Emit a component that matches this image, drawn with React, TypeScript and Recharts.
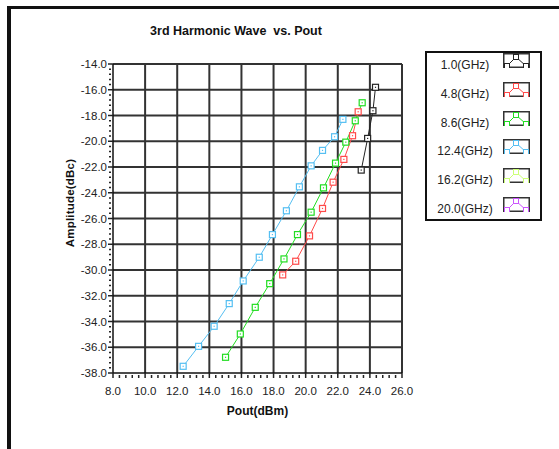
import React from 'react';
import { LineChart, Line, XAxis, YAxis, ReferenceLine, Legend } from 'recharts';

// frequencies shown in the legend
const freqLabels = ['1.0(GHz)', '4.8(GHz)', '8.6(GHz)', '12.4(GHz)', '16.2(GHz)', '20.0(GHz)'];
const freqColors = ['#222222', '#ff4a4a', '#22dd22', '#55bff2', '#ccff77', '#cc55ff'];

// Pout (dBm) / 3rd harmonic amplitude (dBc)
const pout1_0 = [23.46, 23.86, 24.19, 24.35];
const amp1_0 = [-22.24, -19.78, -17.63, -15.81];

const pout4_8 = [18.57, 19.38, 20.24, 21.05, 21.71, 22.38, 22.92, 23.27];
const amp4_8 = [-30.38, -29.32, -27.35, -25.22, -23.18, -21.41, -19.57, -17.71];

const pout8_6 = [15.01, 15.93, 16.86, 17.76, 18.65, 19.49, 20.34, 21.11, 21.86, 22.5, 23.09, 23.52];
const amp8_6 = [-36.78, -34.97, -32.9, -31.06, -29.14, -27.25, -25.51, -23.62, -21.7, -20.07, -18.41, -17.01];

const pout12_4 = [12.37, 13.33, 14.3, 15.24, 16.11, 17.11, 17.93, 18.8, 19.61, 20.34, 21.05, 21.8, 22.32];
const amp12_4 = [-37.48, -35.93, -34.37, -32.61, -30.85, -29.01, -27.25, -25.4, -23.54, -21.91, -20.71, -19.65, -18.3];

const pout16_2: number[] = [];
const amp16_2: number[] = [];
const pout20_0: number[] = [];
const amp20_0: number[] = [];

const xMajorTicks = [8, 10, 12, 14, 16, 18, 20, 22, 24, 26];
const yMajorTicks = [-38, -36, -34, -32, -30, -28, -26, -24, -22, -20, -18, -16, -14];

const toPoints = (xs: number[], ys: number[]) => xs.map((x, i) => ({ x, y: ys[i] }));

const series = [
  toPoints(pout1_0, amp1_0),
  toPoints(pout4_8, amp4_8),
  toPoints(pout8_6, amp8_6),
  toPoints(pout12_4, amp12_4),
  toPoints(pout16_2, amp16_2),
  toPoints(pout20_0, amp20_0),
];

// 4 minor ticks between each pair of majors
const withMinors = (majors: number[]) => {
  const out: number[] = [];
  majors.forEach((m, i) => {
    out.push(m);
    if (i < majors.length - 1) {
      const step = (majors[i + 1] - m) / 5;
      for (let k = 1; k < 5; k++) out.push(+(m + step * k).toFixed(3));
    }
  });
  return out;
};

const isMajor = (v: number) => Math.abs(v / 2 - Math.round(v / 2)) < 1e-6;

const FONT = '"Liberation Sans", Arial, sans-serif';

const XTick = ({ x, y, payload }: any) => {
  const major = isMajor(payload.value);
  return (
    <g>
      <line x1={x} x2={x} y1={y + (major ? 0 : 2)} y2={y + 5} stroke="#222" strokeWidth={1.5} />
      {major && (
        <text x={x} y={y + 22} textAnchor="middle" fontSize={11.5} fontFamily={FONT} fill="#222">
          {payload.value.toFixed(1)}
        </text>
      )}
    </g>
  );
};

const YTick = ({ x, y, payload }: any) => {
  const major = isMajor(payload.value);
  return (
    <g>
      <line x1={x - (major ? 5 : 4)} x2={major ? x : x - 2} y1={y} y2={y} stroke="#222" strokeWidth={1.5} />
      {major && (
        <text x={x - 6} y={y + 4} textAnchor="end" fontSize={11.5} fontFamily={FONT} fill="#222">
          {payload.value.toFixed(1)}
        </text>
      )}
    </g>
  );
};

const makeDot = (color: string) => (props: any) => {
  const { cx, cy, index } = props;
  if (cx == null || cy == null) return <g key={index} />;
  return (
    <g key={index}>
      <rect x={cx - 3} y={cy - 3} width={6} height={6} fill="#fff" stroke={color} strokeWidth={1.2} />
      <rect x={cx - 0.6} y={cy - 0.6} width={1.2} height={1.2} fill={color} />
    </g>
  );
};

const LegendBox = () => (
  <div
    style={{
      position: 'relative',
      width: 113,
      height: 166,
      border: '2px solid #111',
      background: '#fff',
      fontFamily: FONT,
      fontSize: 12,
      color: '#222',
    }}
  >
    {freqLabels.map((label, i) => {
      const cy = 12 + i * 28.8;
      return (
        <React.Fragment key={label}>
          <div style={{ position: 'absolute', left: 2, width: 72, top: cy - 8, textAlign: 'center', lineHeight: '16px' }}>
            {label}
          </div>
          <svg
            style={{ position: 'absolute', left: 76, top: cy - 12 }}
            width={27}
            height={15}
          >
            <rect x={0.75} y={0.75} width={25.5} height={13.5} fill="#fff" stroke="#333" strokeWidth={1.5} />
            <polyline points="4,13 13,4 23,13" fill="none" stroke={freqColors[i]} strokeWidth={1} />
            {[
              [4, 13],
              [13, 4],
              [23, 13],
            ].map(([px, py], j) => (
              <rect key={j} x={px - 2.5} y={py - 2.5} width={5} height={5} fill="#fff" stroke={freqColors[i]} strokeWidth={1} />
            ))}
          </svg>
        </React.Fragment>
      );
    })}
  </div>
);

export default function App() {
  return (
    <div style={{ position: 'absolute', left: 0, top: 0, width: 559, height: 449, background: '#fff', overflow: 'hidden' }}>
      {/* frame */}
      <div
        style={{
          position: 'absolute',
          left: 7,
          top: 6,
          width: 600,
          height: 500,
          borderLeft: '4px solid #111',
          borderTop: '3px solid #111',
        }}
      />
      <div
        style={{
          position: 'absolute',
          left: 100,
          top: 24,
          width: 272,
          textAlign: 'center',
          fontFamily: FONT,
          fontWeight: 'bold',
          fontSize: 12.5,
          whiteSpace: 'pre',
          color: '#111',
        }}
      >
        {'3rd Harmonic Wave  vs. Pout'}
      </div>
      <div
        style={{
          position: 'absolute',
          left: 200,
          top: 404,
          width: 115,
          textAlign: 'center',
          fontFamily: FONT,
          fontWeight: 'bold',
          fontSize: 12,
          color: '#111',
        }}
      >
        Pout(dBm)
      </div>
      <div
        style={{
          position: 'absolute',
          left: 70 - 60,
          top: 203 - 8,
          width: 120,
          height: 16,
          lineHeight: '16px',
          textAlign: 'center',
          transform: 'rotate(-90deg)',
          fontFamily: FONT,
          fontWeight: 'bold',
          fontSize: 11.5,
          letterSpacing: 0.2,
          color: '#111',
        }}
      >
        Amplitude(dBc)
      </div>
      <LineChart width={559} height={449} margin={{ top: 64, right: 157, bottom: 75, left: 112 }} style={{ position: 'absolute', left: 0, top: 0 }}>
        <XAxis
          dataKey="x"
          type="number"
          domain={[8, 26]}
          ticks={withMinors(xMajorTicks)}
          interval={0}
          allowDataOverflow
          height={1}
          tickSize={0}
          tickMargin={0}
          tick={<XTick />}
          axisLine={{ stroke: '#111', strokeWidth: 1.5 }}
          tickLine={false}
        />
        <YAxis
          dataKey="y"
          type="number"
          domain={[-38, -14]}
          ticks={withMinors(yMajorTicks)}
          interval={0}
          allowDataOverflow
          width={1}
          tickSize={0}
          tickMargin={0}
          tick={<YTick />}
          axisLine={{ stroke: '#111', strokeWidth: 1.5 }}
          tickLine={false}
        />
        {xMajorTicks.slice(1).map((v) => (
          <ReferenceLine key={'x' + v} x={v} stroke="#333" strokeWidth={2} />
        ))}
        {yMajorTicks.slice(1).map((v) => (
          <ReferenceLine key={'y' + v} y={v} stroke="#333" strokeWidth={2} />
        ))}
        {series.map((data, i) => (
          <Line
            key={freqLabels[i]}
            data={data}
            dataKey="y"
            name={freqLabels[i]}
            type="linear"
            stroke={freqColors[i]}
            strokeWidth={1}
            dot={makeDot(freqColors[i])}
            activeDot={false}
            isAnimationActive={false}
          />
        ))}
        <Legend
          layout="vertical"
          align="center"
          verticalAlign="middle"
          content={() => <LegendBox />}
          wrapperStyle={{ position: 'absolute', left: 425, top: 51, width: 117, height: 170, margin: 0 }}
        />
      </LineChart>
    </div>
  );
}
